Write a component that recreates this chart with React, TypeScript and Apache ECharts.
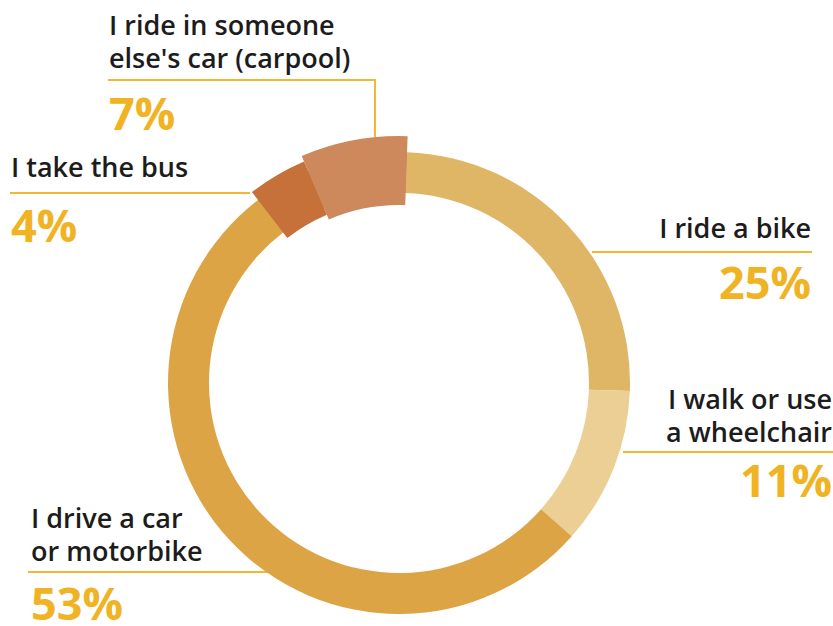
import React, { useEffect, useRef } from "react";
import * as echarts from "echarts";

// ---- data ----
const categories = [
  "I ride a bike",
  "I walk or use\na wheelchair",
  "I drive a car\nor motorbike",
  "I take the bus",
  "I ride in someone\nelse's car (carpool)",
];
const values = [25, 11, 53, 4, 7];

// ---- styles / layout (not data) ----
const colors = ["#dfb566", "#ebcf94", "#dda445", "#c6703a", "#cd885b"];
const highlightRadius: (number[] | null)[] = [null, null, null, [183, 241], [178, 247]];
const TEXT = "#1c1c1c";
const GOLD = "#f0b323";
const LINE = "#f2b833";
const LINE_HEIGHT = 33;

type Layout = {
  x: number;
  align: "left" | "right";
  nameY: number; // center of the name block
  pctY: number;
  line: number[][];
};
const layouts: Layout[] = [
  { x: 811, align: "right", nameY: 227.5, pctY: 281, line: [[812, 252], [592, 252]] },
  { x: 832, align: "right", nameY: 415, pctY: 479, line: [[833, 452], [623, 452]] },
  { x: 31, align: "left", nameY: 534, pctY: 602.5, line: [[28, 572], [267, 572]] },
  { x: 11, align: "left", nameY: 166, pctY: 224, line: [[10, 193], [250, 193]] },
  { x: 109, align: "left", nameY: 40.5, pctY: 112, line: [[108, 80], [375, 80], [375, 137]] },
];

export default function App() {
  const ref = useRef<HTMLDivElement>(null);
  useEffect(() => {
    document.body.style.margin = "0";
    const chart = echarts.init(ref.current!, null, { renderer: "svg" });
    const center = [399, 383];
    const baseSeries = {
      type: "pie",
      center,
      startAngle: 88,
      clockwise: true,
      silent: true,
      avoidLabelOverlap: false,
      label: { show: false },
      labelLine: { show: false },
      emphasis: { disabled: true },
    };
    const series: any[] = [
      {
        ...baseSeries,
        radius: [190, 231],
        data: values.map((v, i) => ({
          name: categories[i],
          value: v,
          itemStyle: { color: colors[i] },
        })),
      },
    ];
    highlightRadius.forEach((r, idx) => {
      if (!r) return;
      series.push({
        ...baseSeries,
        radius: r,
        data: values.map((v, i) => ({
          name: categories[i],
          value: v,
          itemStyle: { color: i === idx ? colors[i] : "transparent" },
        })),
      });
    });

    const graphics: any[] = [];
    layouts.forEach((L, i) => {
      graphics.push({
        type: "text",
        x: L.x,
        y: L.nameY,
        style: {
          text: categories[i],
          fill: TEXT,
          fontFamily: "'Open Sans'",
          fontSize: 27,
          fontWeight: 600,
          lineHeight: LINE_HEIGHT,
          align: L.align,
          verticalAlign: "middle",
        },
      });
      graphics.push({
        type: "text",
        x: L.x,
        y: L.pctY,
        style: {
          text: `${values[i]}%`,
          fill: GOLD,
          fontFamily: "'Open Sans'",
          fontSize: 45,
          fontWeight: "bold",
          align: L.align,
          verticalAlign: "middle",
        },
      });
      graphics.push({
        type: "polyline",
        shape: { points: L.line },
        style: { stroke: LINE, lineWidth: 2, fill: null },
      });
    });

    chart.setOption({
      animation: false,
      backgroundColor: "#ffffff",
      series,
      graphic: graphics,
    });
    return () => chart.dispose();
  }, []);
  return <div ref={ref} style={{ width: 833, height: 626 }} />;
}
